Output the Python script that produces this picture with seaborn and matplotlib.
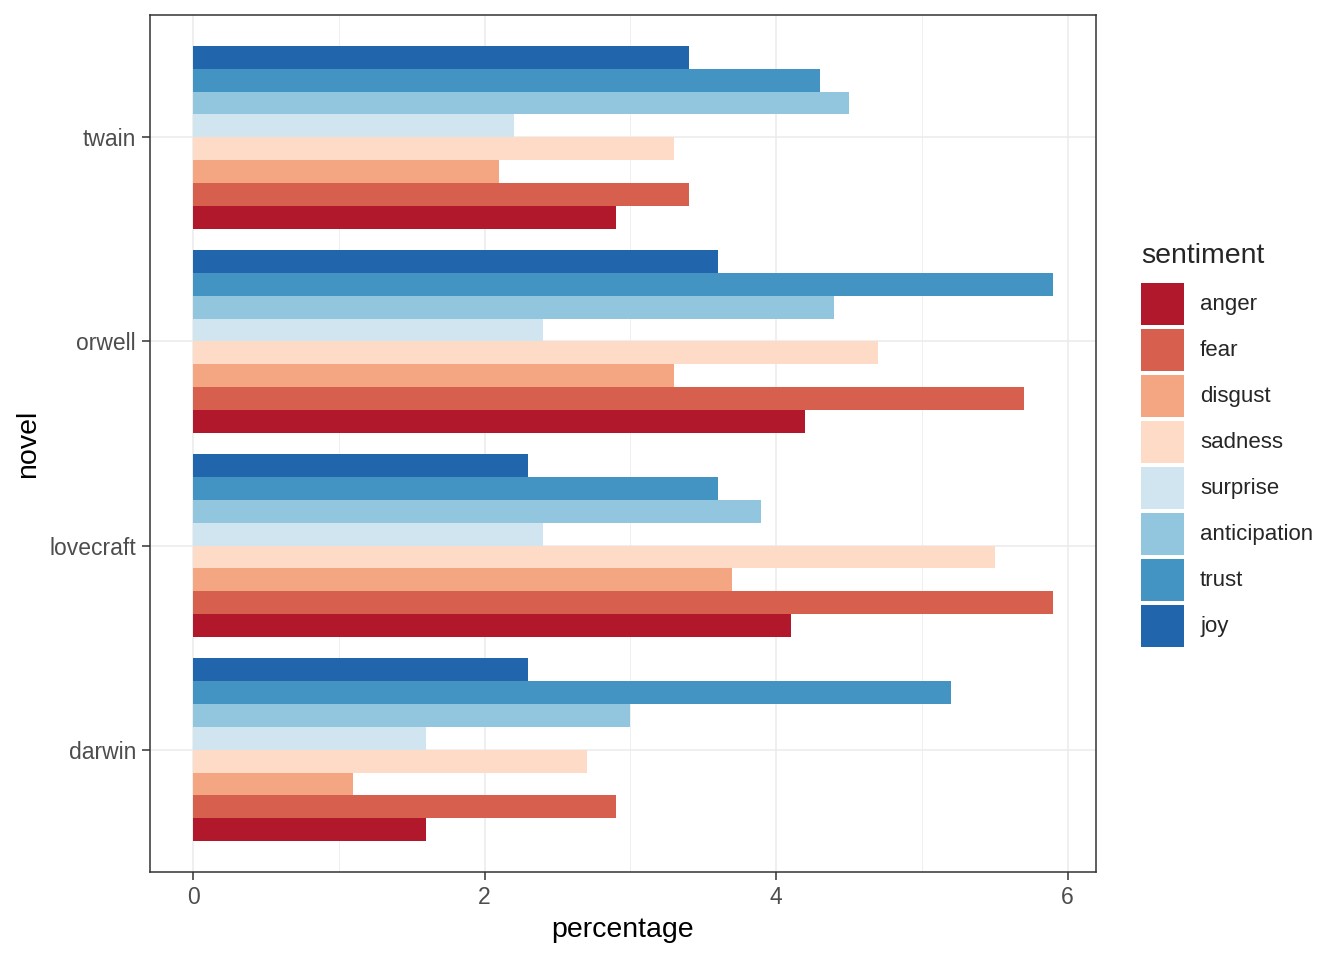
import pandas as pd
import seaborn as sns
import matplotlib.pyplot as plt
from matplotlib.patches import Patch
from matplotlib.ticker import MultipleLocator

# =========================
# DATA
# =========================

novels = ["twain", "orwell", "lovecraft", "darwin"]
sentiments = ["anger", "fear", "disgust", "sadness", "surprise", "anticipation", "trust", "joy"]

anger = [2.9, 4.2, 4.1, 1.6]
fear = [3.4, 5.7, 5.9, 2.9]
disgust = [2.1, 3.3, 3.7, 1.1]
sadness = [3.3, 4.7, 5.5, 2.7]
surprise = [2.2, 2.4, 2.4, 1.6]
anticipation = [4.5, 4.4, 3.9, 3.0]
trust = [4.3, 5.9, 3.6, 5.2]
joy = [3.4, 3.6, 2.3, 2.3]

colors = ["#B2182B", "#D6604D", "#F4A582", "#FDDBC7",
          "#D1E5F0", "#92C5DE", "#4393C3", "#2166AC"]

values = {"anger": anger, "fear": fear, "disgust": disgust, "sadness": sadness,
          "surprise": surprise, "anticipation": anticipation, "trust": trust, "joy": joy}

rows = []
for s in sentiments:
    for n, v in zip(novels, values[s]):
        rows.append({"novel": n, "sentiment": s, "percentage": v})
df = pd.DataFrame(rows)

palette = dict(zip(sentiments, colors))

# =========================
# PLOT
# =========================

sns.set_style("white")
plt.rcParams['font.family'] = ['Liberation Sans', 'DejaVu Sans']

fig = plt.figure(figsize=(13.44, 9.6), dpi=100)
ax = fig.add_axes([150 / 1344, 1 - 872 / 960, 946 / 1344, 857 / 960])

# joy on top within each group
sns.barplot(data=df, x="percentage", y="novel", hue="sentiment",
            order=novels, hue_order=sentiments[::-1], palette=palette,
            width=0.9, saturation=1, linewidth=0, legend=False, ax=ax)

ax.set_xlim(-0.295, 6.195)
ax.set_ylim(3.6, -0.6)
ax.xaxis.set_major_locator(MultipleLocator(2))
ax.xaxis.set_minor_locator(MultipleLocator(1))

ax.grid(which="major", color="#EBEBEB", linewidth=1.1)
ax.grid(which="minor", axis="x", color="#EBEBEB", linewidth=0.55)
ax.set_axisbelow(True)

for sp in ax.spines.values():
    sp.set_color("#333333")
    sp.set_linewidth(1.1)

ax.tick_params(axis="both", which="major", length=6, width=1.1, color="#333333",
               labelsize=16.5, labelcolor="#4D4D4D", pad=4, bottom=True, left=True)
ax.tick_params(axis="x", which="minor", length=0)

ax.set_xlabel("percentage", fontsize=20.5, color="black", labelpad=6)
ax.set_ylabel("novel", fontsize=20.5, color="black", labelpad=6)

handles = [Patch(facecolor=palette[s], edgecolor="none", label=s) for s in sentiments]
leg = fig.legend(handles=handles, title="sentiment", loc="center left",
                 bbox_to_anchor=(1132 / 1344, 1 - 445 / 960), frameon=False,
                 fontsize=16, title_fontsize=20.5, handlelength=1.94, handleheight=2.53,
                 labelspacing=0.18, handletextpad=0.72, borderaxespad=0)
leg._legend_box.align = "left"
leg._legend_box.sep = 9.5  # more room under the title

plt.savefig("out.png", dpi=100)
